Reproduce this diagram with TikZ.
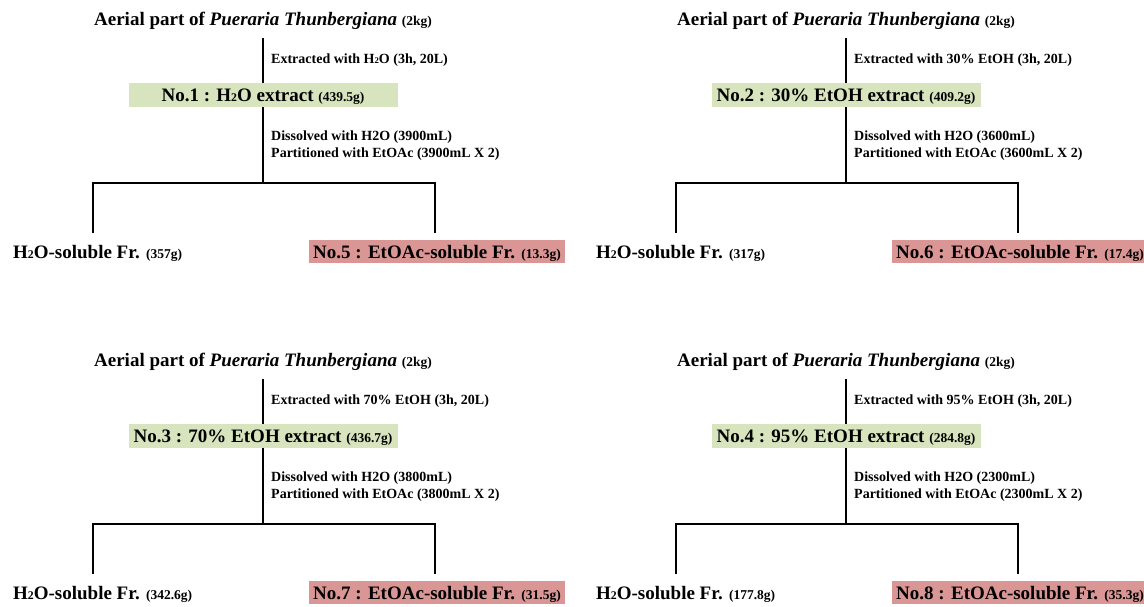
\documentclass[tikz,border=0pt]{standalone}
\usepackage{graphicx}
\usepackage{fontspec}
\setmainfont{Liberation Serif}
\definecolor{gbox}{HTML}{D7E4BD}
\definecolor{rbox}{HTML}{D99694}
\newcommand\bigf{\fontsize{19}{22}\selectfont}
\newcommand\smf{\fontsize{13.5}{16}\selectfont}
\newcommand\labf{\fontsize{14}{17}\selectfont}
\newcommand\two{\raisebox{-0.04em}{\scalebox{0.62}{2}}}
\tikzset{
 conn/.style={line width=2.8pt, line join=miter},
 titlenode/.style={inner sep=0pt, anchor=base, font=\bfseries\bigf},
 greenbox/.style={fill=gbox, minimum width=269pt, text height=15pt, text depth=3pt, inner ysep=3pt, inner xsep=2pt, font=\bfseries\bigf},
 redbox/.style={fill=rbox, anchor=west, text height=15pt, text depth=2pt, inner ysep=3pt, inner xsep=4pt, font=\bfseries\bigf},
 leaf/.style={anchor=base west, inner sep=0pt, font=\bfseries\bigf},
 steplabel/.style={anchor=base west, inner sep=0pt, font=\bfseries\labf},
}
\newcommand\panel[8]{%
\begin{scope}[shift={(#2,#3)}]
 \node[titlenode] (t#1) at (263,25) {Aerial part of \textit{Pueraria Thunbergiana} {\smf(2kg)}};
 \node[greenbox] (b#1) at (263,95) {#5};
 \coordinate (s#1) at (263,183);
 \coordinate (dl#1) at (93,233);
 \coordinate (dr#1) at (435,233);
 \node[leaf] (l#1) at (13,258) {#7};
 \node[redbox] (r#1) at (309,251.5) {#8};
 \draw[conn] ([yshift=-9pt]t#1.south) -- (b#1.north);
 \draw[conn] (b#1.south) -- (s#1);
 \draw[conn] (dl#1) |- (s#1) -| (dr#1);
 \node[steplabel] (e#1) at (271,63) {#4};
 \node[steplabel] (p#1) at (271,140) {Dissolved with H2O (#6mL)};
 \node[steplabel] (q#1) at (271,157) {Partitioned with EtOAc (#6mL X 2)};
\end{scope}}
\begin{document}
\begin{tikzpicture}[x=1pt,y=-1pt]
\fill[white] (0,0) rectangle (1144,606);
\useasboundingbox (0,0) rectangle (1144,606);
\panel{1}{0}{0}{Extracted with H\two O (3h, 20L)}{No.1 : H\two O extract {\smf(439.5g)}}{3900}{H\two O-soluble Fr. {\smf(357g)}}{No.5 : EtOAc-soluble Fr. {\smf(13.3g)}}
\panel{2}{583}{0}{Extracted with 30\% EtOH (3h, 20L)}{No.2 : 30\% EtOH extract {\smf(409.2g)}}{3600}{H\two O-soluble Fr. {\smf(317g)}}{No.6 : EtOAc-soluble Fr. {\smf(17.4g)}}
\panel{3}{0}{341}{Extracted with 70\% EtOH (3h, 20L)}{No.3 : 70\% EtOH extract {\smf(436.7g)}}{3800}{H\two O-soluble Fr. {\smf(342.6g)}}{No.7 : EtOAc-soluble Fr. {\smf(31.5g)}}
\panel{4}{583}{341}{Extracted with 95\% EtOH (3h, 20L)}{No.4 : 95\% EtOH extract {\smf(284.8g)}}{2300}{H\two O-soluble Fr. {\smf(177.8g)}}{No.8 : EtOAc-soluble Fr. {\smf(35.3g)}}
\end{tikzpicture}
\end{document}
